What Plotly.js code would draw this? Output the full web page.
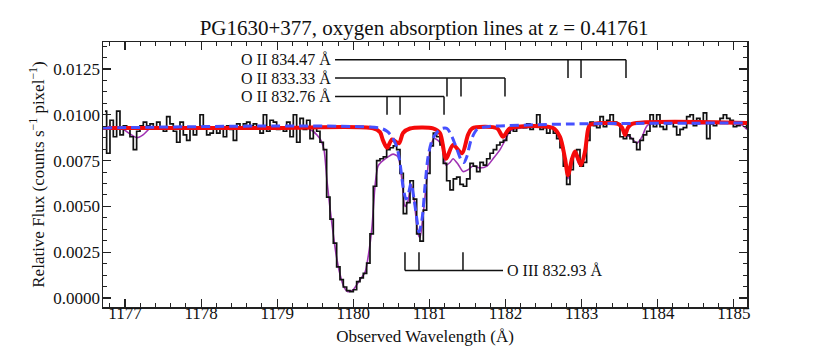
<!DOCTYPE html>
<html>
<head>
<meta charset="utf-8">
<script src="https://cdn.plot.ly/plotly-3.0.1.min.js"></script>
<style>
  html, body { margin: 0; padding: 0; background: #fff; }
  #chart { width: 830px; height: 346px; }
</style>
</head>
<body>
<div id="chart"></div>
<script>
// PG1630+377, O II / O III absorption at z = 0.41761

// observed spectrum: histogram bins (flux in units of 1e-3 counts/s/pixel)
const binStart = 1176.715;
const binWidth = 0.0438;
const fluxE3 = [
  10.2, 7.9, 9.7, 8.8, 10.2, 8.9, 9.4, 9.3, 8.8, 8.1,
  9.1, 9.4, 9.6, 9.4, 9.5, 9.3, 9.6, 9.3, 9.1, 9.9,
  9.5, 9.1, 8.5, 9.6, 8.9, 8.6, 9.3, 8.9, 9.3, 10.0,
  9.3, 8.9, 9.0, 9.3, 9.0, 9.3, 8.8, 9.4, 9.2, 8.6,
  9.5, 9.3, 9.5, 9.6, 9.4, 9.5, 9.3, 9.0, 10.0, 9.1,
  9.7, 9.6, 9.2, 9.3, 9.1, 9.6, 8.8, 10.0, 8.5, 9.8,
  9.2, 9.7, 8.7, 9.3, 9.1, 8.5, 8.1, 5.5, 4.3, 3.0,
  1.7, 1.0, 0.6, 0.4, 0.35, 0.45, 0.9, 1.1, 1.35, 1.9,
  3.5, 6.1, 7.5, 7.6, 7.7, 8.1, 8.2, 8.3, 8.1, 6.8,
  4.6, 5.2, 6.4, 5.4, 3.5, 3.1, 4.8, 6.8, 8.3, 9.0,
  8.8, 8.35, 7.35, 6.4, 5.9, 6.5, 6.6, 6.2, 6.1, 6.5,
  7.35, 7.2, 6.9, 7.4, 7.25, 7.6, 7.9, 8.1, 8.35, 8.5,
  8.6, 9.0, 9.26, 9.1, 9.35, 9.4, 9.3, 9.5, 9.2, 9.4,
  10.0, 9.2, 9.3, 9.0, 9.3, 9.0, 8.7, 8.2, 7.2, 6.2,
  7.0, 7.8, 8.1, 7.2, 7.4, 8.6, 9.6, 9.4, 9.3, 9.9,
  9.35, 9.7, 10.0, 9.6, 9.5, 8.8, 8.7, 8.9, 8.7, 8.5,
  8.1, 8.6, 8.9, 9.1, 10.0, 9.35, 10.0, 9.35, 9.2, 9.5,
  9.6, 9.35, 8.9, 9.2, 9.3, 9.9, 10.0, 9.4, 9.8, 9.6,
  10.1, 8.7, 9.5, 9.4, 9.6, 9.8, 10.0, 9.8, 9.7, 9.35,
  9.4, 9.5, 9.6, 9.3
];

// total model (purple)
const totalWave = [1176.711, 1176.934, 1176.974, 1177.066, 1177.158, 1177.237, 1177.329, 1177.460,
  1179.300, 1179.392, 1179.470, 1179.523, 1179.575, 1179.615, 1179.654, 1179.694, 1179.733,
  1179.773, 1179.825, 1179.878, 1179.930, 1179.996, 1180.088, 1180.154, 1180.193, 1180.246,
  1180.285, 1180.325, 1180.390, 1180.456, 1180.522, 1180.587, 1180.640, 1180.679, 1180.719,
  1180.758, 1180.798, 1180.850, 1180.876, 1180.916, 1180.968, 1181.008, 1181.060, 1181.113,
  1181.166, 1181.218, 1181.271, 1181.310, 1181.376, 1181.441, 1181.507, 1181.573, 1181.665,
  1181.757, 1181.836, 1181.928, 1181.993, 1182.059, 1182.151, 1182.624, 1182.716, 1182.782,
  1182.821, 1182.874, 1182.913, 1182.953, 1182.992, 1183.045, 1183.084, 1183.110, 1183.505,
  1183.570, 1183.636, 1183.728, 1183.794, 1183.872, 1184.556, 1185.082, 1185.173];
const totalE3 = [9.30, 9.28, 9.22, 8.95, 8.75, 8.90, 9.25, 9.30,
  9.30, 9.28, 9.10, 8.90, 8.60, 8.10, 6.40, 4.90, 3.60,
  2.40, 1.30, 0.60, 0.35, 0.45, 1.00, 1.40, 2.20, 3.90,
  6.10, 7.20, 7.50, 7.70, 7.85, 7.70, 6.40, 5.00, 5.30,
  6.20, 5.40, 3.50, 3.30, 4.50, 6.60, 8.10, 8.70, 8.60,
  8.30, 7.25, 7.40, 7.60, 7.30, 6.90, 7.00, 7.20, 7.10,
  7.20, 7.60, 8.10, 8.60, 9.10, 9.25, 9.25, 8.60, 7.40,
  6.50, 7.40, 7.90, 7.40, 7.20, 8.10, 9.00, 9.44, 9.45,
  8.90, 8.80, 8.45, 8.80, 9.45, 9.50, 9.50, 9.20];

// O II model (red)
const oiiWave = [1176.711, 1179.000, 1180.259, 1180.351, 1180.390, 1180.443, 1180.509, 1180.600,
  1180.653, 1180.745, 1181.047, 1181.139, 1181.218, 1181.310, 1181.428, 1181.507, 1181.560,
  1181.888, 1181.967, 1182.059, 1182.624, 1182.716, 1182.782, 1182.821, 1182.874, 1182.913,
  1182.953, 1182.992, 1183.045, 1183.084, 1183.110, 1183.478, 1183.531, 1183.570, 1183.610,
  1183.662, 1185.173];
const oiiE3 = [9.28, 9.28, 9.26, 9.05, 8.60, 8.20, 8.65, 8.44,
  9.00, 9.25, 9.26, 9.00, 7.60, 8.35, 7.90, 8.90, 9.25,
  9.26, 8.80, 9.26, 9.28, 8.80, 7.60, 6.70, 7.60, 8.00,
  7.60, 7.25, 8.00, 9.20, 9.45, 9.50, 9.30, 8.90, 9.30,
  9.50, 9.55];

// O III model (blue dashed)
const oiiiWave = [1176.711, 1180.351, 1180.443, 1180.509, 1180.574, 1180.614, 1180.653, 1180.692,
  1180.719, 1180.758, 1180.798, 1180.837, 1180.863, 1180.903, 1180.942, 1180.982, 1181.034,
  1181.100, 1181.166, 1181.231, 1181.297, 1181.363, 1181.428, 1181.455, 1181.494, 1181.547,
  1181.626, 1181.757, 1182.000, 1182.887, 1185.173];
const oiiiE3 = [9.28, 9.27, 9.10, 8.80, 8.20, 7.35, 6.10, 5.40,
  5.60, 6.25, 5.40, 4.25, 3.60, 4.30, 6.10, 7.70, 8.60,
  9.05, 9.25, 9.25, 8.80, 8.10, 7.45, 7.40, 7.75, 8.60,
  9.20, 9.35, 9.40, 9.50, 9.55];

// line identifications: component tick wavelengths
const oiiLabels = ["O II 832.76 Å", "O II 833.33 Å", "O II 834.47 Å"];
const oiiTicks = [
  [1180.443, 1180.614, 1181.192],
  [1181.231, 1181.415, 1181.993],
  [1182.821, 1182.992, 1183.583]
];
const oiiLevels = [0.011, 0.012, 0.013];
const oiiStart = 1179.76;
const oiiiLabel = "O III 832.93 Å";
const oiiiTicks = [1180.679, 1180.863, 1181.441];
const oiiiLevel = 0.0015;
const oiiiEnd = 1181.967;
const tickLen = 0.001;

const SERIF = "'Liberation Serif', 'Times New Roman', serif";
const e3 = v => v * 1e-3;
const binCenters = fluxE3.map((_, i) => binStart + binWidth * (i + 0.5));

const traces = [
  {
    x: totalWave, y: totalE3.map(e3), mode: "lines", name: "total",
    line: { color: "rgb(160,50,180)", width: 1.6, shape: "spline", smoothing: 0.7 }
  },
  {
    x: binCenters, y: fluxE3.map(e3), mode: "lines", name: "data",
    line: { color: "#111", width: 1.7, shape: "hvh" }
  },
  {
    x: oiiWave, y: oiiE3.map(e3), mode: "lines", name: "O II",
    line: { color: "rgb(245,10,10)", width: 4, shape: "spline", smoothing: 0.8 }
  },
  {
    x: oiiiWave, y: oiiiE3.map(e3), mode: "lines", name: "O III",
    line: { color: "rgb(70,80,255)", width: 3, dash: "9px,5px", shape: "spline", smoothing: 0.8 }
  }
];

// bracket shapes for the line ids
const shapes = [];
const lineStyle = { color: "#111", width: 1.5 };
oiiTicks.forEach((ticks, r) => {
  const lev = oiiLevels[r];
  shapes.push({ type: "line", xref: "x", yref: "y", x0: oiiStart, x1: ticks[ticks.length - 1], y0: lev, y1: lev, line: lineStyle });
  ticks.forEach(t => shapes.push({ type: "line", xref: "x", yref: "y", x0: t, x1: t, y0: lev, y1: lev - tickLen, line: lineStyle }));
});
shapes.push({ type: "line", xref: "x", yref: "y", x0: oiiiTicks[0], x1: oiiiEnd, y0: oiiiLevel, y1: oiiiLevel, line: lineStyle });
oiiiTicks.forEach(t => shapes.push({ type: "line", xref: "x", yref: "y", x0: t, x1: t, y0: oiiiLevel, y1: oiiiLevel + tickLen, line: lineStyle }));

const labelFont = { family: SERIF, size: 16, color: "#111" };
const annotations = oiiLabels.map((txt, r) => ({
  x: oiiStart, y: oiiLevels[r], xref: "x", yref: "y", text: txt,
  showarrow: false, xanchor: "right", yanchor: "middle", xshift: -2, font: labelFont
}));
annotations.push({
  x: oiiiEnd, y: oiiiLevel, xref: "x", yref: "y", text: oiiiLabel,
  showarrow: false, xanchor: "left", yanchor: "middle", xshift: 2, font: labelFont
});

const axisCommon = {
  showline: true, linecolor: "#222", linewidth: 1.5, mirror: "allticks",
  ticks: "inside", ticklen: 8, tickwidth: 1.2, tickcolor: "#222",
  showgrid: false, zeroline: false,
  tickfont: { family: SERIF, size: 17, color: "#111" }
};

const layout = {
  width: 830, height: 346,
  margin: { l: 103, r: 83, t: 42, b: 39 },
  paper_bgcolor: "#fff", plot_bgcolor: "#fff",
  showlegend: false,
  font: { family: SERIF, color: "#111", size: 17 },
  title: {
    text: "PG1630+377, oxygen absorption lines at z = 0.41761",
    font: { family: SERIF, size: 21 }, x: 0.511, xanchor: "center", y: 0.92, yanchor: "middle"
  },
  xaxis: Object.assign({}, axisCommon, {
    range: [1176.711, 1185.173], dtick: 1, tick0: 1177, ticklabelstandoff: -10,
    minor: { ticks: "inside", dtick: 0.2, ticklen: 4, tickwidth: 1, tickcolor: "#222", showgrid: false },
    title: { text: "Observed Wavelength (Å)", font: { family: SERIF, size: 17 }, standoff: 9 }
  }),
  yaxis: Object.assign({}, axisCommon, {
    range: [-0.00049, 0.01397], dtick: 0.0025, tick0: 0, tickformat: ".4f", ticklabelstandoff: -2,
    minor: { ticks: "inside", dtick: 0.000625, ticklen: 4, tickwidth: 1, tickcolor: "#222", showgrid: false },
    title: { text: "Relative Flux (counts s<sup>−1</sup> pixel<sup>−1</sup>)", font: { family: SERIF, size: 17 }, standoff: 4 }
  }),
  shapes: shapes,
  annotations: annotations
};

Plotly.newPlot("chart", traces, layout, { displayModeBar: false, staticPlot: true });
</script>
</body>
</html>
